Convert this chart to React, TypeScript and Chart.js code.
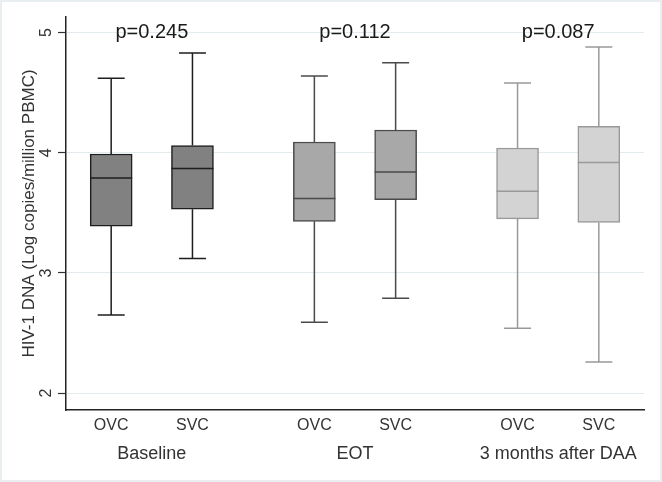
import React, { useEffect, useRef } from "react";
import { Chart, registerables } from "chart.js";

Chart.register(...registerables);

// ---- data ----
const groupLabels = ["Baseline", "EOT", "3 months after DAA"];
const boxLabels = ["OVC", "SVC", "OVC", "SVC", "OVC", "SVC"];
const boxPositions = [0, 1, 2.5, 3.5, 5, 6];
const groupCenters = [0.5, 3, 5.5];
const pValueLabels = ["p=0.245", "p=0.112", "p=0.087"];
const whiskerHigh = [4.62, 4.83, 4.64, 4.75, 4.58, 4.88];
const upperQuartile = [3.99, 4.06, 4.09, 4.19, 4.04, 4.22];
const medianValues = [3.79, 3.87, 3.62, 3.84, 3.68, 3.92];
const lowerQuartile = [3.39, 3.53, 3.43, 3.61, 3.45, 3.42];
const whiskerLow = [2.65, 3.12, 2.59, 2.79, 2.54, 2.26];
const yTickValues = [2, 3, 4, 5];
const pLabelValue = 5;

// ---- styles ----
const FONT = "'Liberation Sans', Arial, sans-serif";
const boxFill = ["#818181", "#818181", "#a8a8a8", "#a8a8a8", "#d3d3d3", "#d3d3d3"];
const boxLine = ["#1e1e1e", "#1e1e1e", "#4a4a4a", "#4a4a4a", "#999999", "#999999"];
const BOX_WIDTH = 42;
const CAP_WIDTH = 27;
const X_MIN = -0.556;
const X_MAX = 6.556;

const boxPlotPlugin = {
  id: "boxWhiskers",
  afterDatasetsDraw(chart: any) {
    const { ctx, scales } = chart;
    const xs = scales.x;
    const ys = scales.y;
    ctx.save();
    boxPositions.forEach((p, i) => {
      const x = xs.getPixelForValue(p);
      const yHi = ys.getPixelForValue(whiskerHigh[i]);
      const yQ3 = ys.getPixelForValue(upperQuartile[i]);
      const yMed = ys.getPixelForValue(medianValues[i]);
      const yQ1 = ys.getPixelForValue(lowerQuartile[i]);
      const yLo = ys.getPixelForValue(whiskerLow[i]);
      ctx.strokeStyle = boxLine[i];
      ctx.lineWidth = 1.5;
      ctx.beginPath();
      ctx.moveTo(x, yQ3);
      ctx.lineTo(x, yHi);
      ctx.moveTo(x - CAP_WIDTH / 2, yHi);
      ctx.lineTo(x + CAP_WIDTH / 2, yHi);
      ctx.moveTo(x, yQ1);
      ctx.lineTo(x, yLo);
      ctx.moveTo(x - CAP_WIDTH / 2, yLo);
      ctx.lineTo(x + CAP_WIDTH / 2, yLo);
      ctx.moveTo(x - BOX_WIDTH / 2, yMed);
      ctx.lineTo(x + BOX_WIDTH / 2, yMed);
      ctx.stroke();
    });
    ctx.fillStyle = "#1a1a1a";
    ctx.font = `20px ${FONT}`;
    ctx.textAlign = "center";
    ctx.textBaseline = "middle";
    groupCenters.forEach((g, i) => {
      ctx.fillText(pValueLabels[i], xs.getPixelForValue(g), ys.getPixelForValue(pLabelValue));
    });
    ctx.restore();
  },
};

export default function App() {
  const ref = useRef<HTMLCanvasElement | null>(null);

  useEffect(() => {
    document.body.style.margin = "0";
    const canvas = ref.current;
    if (!canvas) return;
    const chart = new Chart(canvas, {
      type: "bar",
      data: {
        datasets: [
          {
            data: boxPositions.map((p, i) => ({ x: p, y: [lowerQuartile[i], upperQuartile[i]] })) as any,
            backgroundColor: boxFill,
            borderColor: boxLine,
            borderWidth: 1.5,
            borderSkipped: false,
            barThickness: BOX_WIDTH,
          },
        ],
      },
      options: {
        animation: false,
        responsive: false,
        maintainAspectRatio: false,
        devicePixelRatio: 1,
        layout: { padding: { left: 0, top: 17, right: 18, bottom: 0 } },
        plugins: { legend: { display: false }, tooltip: { enabled: false } },
        scales: {
          x: {
            type: "linear",
            position: "bottom",
            offset: false,
            bounds: "data",
            min: X_MIN,
            max: X_MAX,
            afterBuildTicks: (scale: any) => {
              scale.ticks = boxPositions.map((v) => ({ value: v }));
            },
            afterFit: (scale: any) => {
              scale.height = 30;
            },
            ticks: {
              autoSkip: false,
              maxRotation: 0,
              minRotation: 0,
              padding: 6,
              color: "#333333",
              font: { family: FONT, size: 16 },
              callback: (_v: any, i: number) => boxLabels[i],
            },
            grid: { display: false, drawTicks: false, offset: false },
            border: { display: true, color: "#222222", width: 1.5 },
          },
          x2: {
            type: "linear",
            position: "bottom",
            offset: false,
            min: X_MIN,
            max: X_MAX,
            afterBuildTicks: (scale: any) => {
              scale.ticks = groupCenters.map((v) => ({ value: v }));
            },
            afterFit: (scale: any) => {
              scale.height = 42;
            },
            ticks: {
              autoSkip: false,
              maxRotation: 0,
              minRotation: 0,
              padding: 3,
              color: "#333333",
              font: { family: FONT, size: 18 },
              callback: (_v: any, i: number) => groupLabels[i],
            },
            grid: { display: false, drawTicks: false, offset: false },
            border: { display: false },
          },
          y: {
            type: "linear",
            min: 1.86,
            max: 5.13,
            afterBuildTicks: (scale: any) => {
              scale.ticks = yTickValues.map((v) => ({ value: v }));
            },
            afterFit: (scale: any) => {
              scale.width = 66;
            },
            ticks: {
              minRotation: 90,
              maxRotation: 90,
              crossAlign: "center",
              padding: 7,
              color: "#333333",
              font: { family: FONT, size: 16 },
            },
            grid: {
              color: "#e3ebee",
              lineWidth: 1,
              drawTicks: true,
              tickLength: 8,
              tickColor: "#333333",
              tickWidth: 1.2,
            },
            border: { display: true, color: "#222222", width: 1.5 },
            title: {
              display: true,
              text: "HIV-1 DNA (Log copies/million PBMC)",
              color: "#333333",
              font: { family: FONT, size: 17 },
              padding: { top: 19, bottom: 0 },
            },
          },
        },
      },
      plugins: [boxPlotPlugin],
    });
    return () => chart.destroy();
  }, []);

  return (
    <div style={{ position: "relative", width: 662, height: 482, background: "#ffffff" }}>
      <canvas ref={ref} width={662} height={482} style={{ position: "absolute", left: 0, top: 0, width: 662, height: 482 }} />
      <div
        style={{
          position: "absolute",
          left: 0,
          top: 0,
          width: 662,
          height: 482,
          boxSizing: "border-box",
          border: "2px solid #e9eef0",
          pointerEvents: "none",
        }}
      />
    </div>
  );
}
